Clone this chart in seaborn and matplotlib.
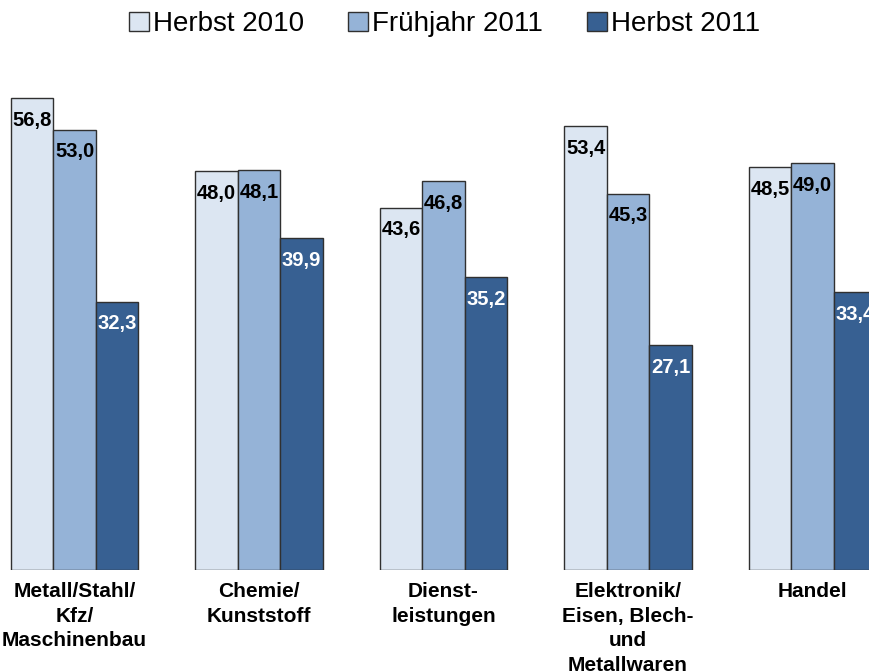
import pandas as pd
import seaborn as sns
import matplotlib.pyplot as plt

# Branchen (Kategorien) und Werte je Umfrage
branchen = ["Metall/Stahl/\nKfz/\nMaschinenbau", "Chemie/\nKunststoff", "Dienst-\nleistungen",
            "Elektronik/\nEisen, Blech-\nund\nMetallwaren", "Handel"]
zeitpunkte = ["Herbst 2010", "Frühjahr 2011", "Herbst 2011"]
herbst_2010 = [56.8, 48.0, 43.6, 53.4, 48.5]
fruehjahr_2011 = [53.0, 48.1, 46.8, 45.3, 49.0]
herbst_2011 = [32.3, 39.9, 35.2, 27.1, 33.4]
farben = ["#DCE6F2", "#95B3D7", "#376092"]
text_farben = ["black", "black", "white"]

werte = [herbst_2010, fruehjahr_2011, herbst_2011]
df = pd.DataFrame({
    "Branche": branchen * 3,
    "Zeitpunkt": [z for z in zeitpunkte for _ in branchen],
    "Wert": [w for serie in werte for w in serie],
})

sns.set_style("white")
plt.rcParams['font.family'] = ['Liberation Sans', 'DejaVu Sans']
plt.rcParams['text.color'] = 'black'
plt.rcParams['xtick.color'] = 'black'

fig = plt.figure(figsize=(8.7, 6.72), dpi=100)
ax = fig.add_axes([0, 0.1518, 1, 0.7292])

sns.barplot(data=df, x="Branche", y="Wert", hue="Zeitpunkt", hue_order=zeitpunkte,
            order=branchen, palette=farben, width=0.69, gap=0, saturation=1,
            edgecolor="#303030", linewidth=1, ax=ax)

# Werte oben in die Balken schreiben
for container, farbe in zip(ax.containers, text_farben):
    for bar in container:
        h = bar.get_height()
        ax.annotate(f"{h:.1f}".replace(".", ","),
                    (bar.get_x() + bar.get_width() / 2, h),
                    xytext=(0, -16), textcoords="offset points",
                    ha="center", va="center", fontsize=14.5, fontweight="bold",
                    color=farbe)

ax.set_xlim(-0.404, 4.312)
ax.set_ylim(0, 58.97)
ax.set_xlabel("")
ax.set_ylabel("")
ax.set_yticks([])
ax.tick_params(axis="x", length=0, pad=9, labelsize=15, labelcolor="black")
for lbl in ax.get_xticklabels():
    lbl.set_fontweight("bold")
    lbl.set_linespacing(1.36)
for s in ax.spines.values():
    s.set_visible(False)

handles, labels = ax.get_legend_handles_labels()
leg = ax.legend(handles, labels, loc="center", bbox_to_anchor=(0.511, 0.964),
                bbox_transform=fig.transFigure, ncol=3, frameon=False, fontsize=20,
                handlelength=0.7, handleheight=0.7, handletextpad=0.15, columnspacing=1.6)
for t in leg.get_texts():
    t.set_color("black")

plt.savefig("out.png", dpi=100)
